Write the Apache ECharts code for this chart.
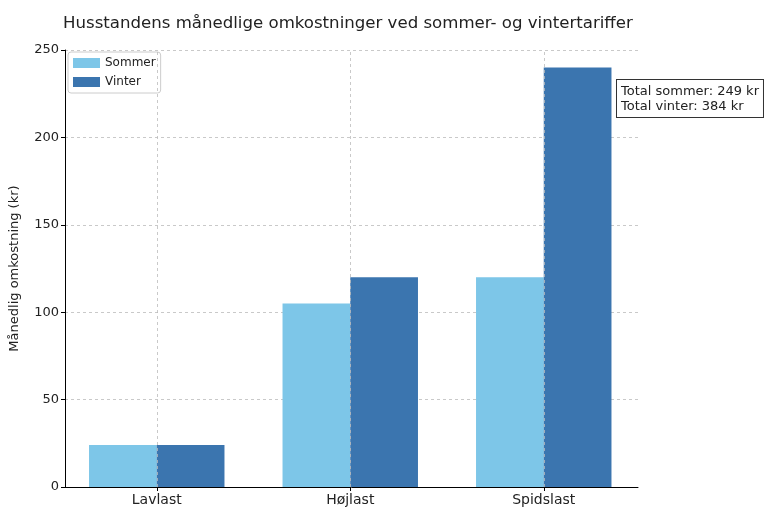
<!DOCTYPE html>
<html><head><meta charset="utf-8">
<script src="https://cdn.jsdelivr.net/npm/echarts@6/dist/echarts.min.js"></script>
<style>html,body{margin:0;padding:0;background:#fff}#c{width:771px;height:516px}</style>
</head><body><div id="c"></div>
<script>
var categories = ['Lavlast', 'Højlast', 'Spidslast'];
var sommer = [24, 105, 120];
var vinter = [24, 120, 240];
var yTicks = [0, 50, 100, 150, 200, 250];
var totalSommer = sommer.reduce(function(a,b){return a+b;},0);
var totalVinter = vinter.reduce(function(a,b){return a+b;},0);
var font = 'DejaVu Sans';
var gridLine = {color:'#bbb', type:[3,3], width:0.8};
var chart = echarts.init(document.getElementById('c'), null, {renderer:'canvas'});
chart.setOption({
  animation:false,
  textStyle:{fontFamily:font},
  title:{text:'Husstandens månedlige omkostninger ved sommer- og vintertariffer', left:58, top:10,
    textStyle:{fontFamily:font, fontSize:16.6, fontWeight:'normal', color:'#222'}},
  legend:{data:['Sommer','Vinter'], orient:'vertical', left:68, top:52, itemWidth:27, itemHeight:10, itemGap:7,
    borderColor:'#ccc', borderWidth:1, borderRadius:3, padding:[5,5,5,5],
    textStyle:{fontFamily:font, fontSize:12, color:'#222'}, icon:'rect'},
  grid:[
    {left:63, right:133, top:50, bottom:29},
    {left:60, right:130.5, top:50, bottom:29}
  ],
  xAxis:[
    {type:'value', gridIndex:0, min:0, max:1, show:true,
      axisLine:{show:true, onZero:false, lineStyle:{color:'#000', width:1}}, axisTick:{show:false},
      axisLabel:{show:false}, splitLine:{show:false}},
    {type:'category', gridIndex:1, data:categories,
      axisLine:{show:false}, axisTick:{show:true, alignWithLabel:true, length:4, lineStyle:{color:'#000'}},
      axisLabel:{fontFamily:font, fontSize:14, color:'#222', margin:6}, splitLine:{show:false}}
  ],
  yAxis:[
    {type:'value', gridIndex:0, min:0, max:250, interval:50,
      name:'Månedlig omkostning (kr)', nameLocation:'middle', nameGap:44, nameRotate:90, nameMoveOverlap:false,
      nameTextStyle:{fontFamily:font, fontSize:13, color:'#222'},
      axisLine:{show:true, lineStyle:{color:'#000'}}, axisTick:{show:true, length:4, lineStyle:{color:'#000'}},
      axisLabel:{fontFamily:font, fontSize:13, color:'#222', margin:6, formatter:function(v){return yTicks.indexOf(v)>=0?String(v):'';}},
      splitLine:{show:true, lineStyle:gridLine}},
    {type:'value', gridIndex:1, min:0, max:250, interval:50, show:false, splitLine:{show:false}}
  ],
  series:[
    {name:'grid', type:'line', xAxisIndex:1, yAxisIndex:1, data:[], silent:true, z:1,
      markLine:{silent:true, symbol:'none', label:{show:false}, animation:false,
        lineStyle:gridLine,
        data:categories.map(function(c){return {xAxis:c};})}},
    {name:'Sommer', type:'bar', xAxisIndex:1, yAxisIndex:1, data:sommer, barWidth:'35%', barGap:'0%', itemStyle:{color:'#7DC6E8'}, z:2},
    {name:'Vinter', type:'bar', xAxisIndex:1, yAxisIndex:1, data:vinter, barWidth:'35%', barGap:'0%', itemStyle:{color:'#3B75AF'}, z:2}
  ],
  graphic:[{type:'text', left:616, top:79, z:100,
    style:{text:'Total sommer: ' + totalSommer + ' kr\nTotal vinter: ' + totalVinter + ' kr',
      font:'13px DejaVu Sans', fill:'#222', lineHeight:15,
      backgroundColor:'#fff', borderColor:'#333', borderWidth:1, padding:[4,4,3,4]}}]
});
</script></body></html>
